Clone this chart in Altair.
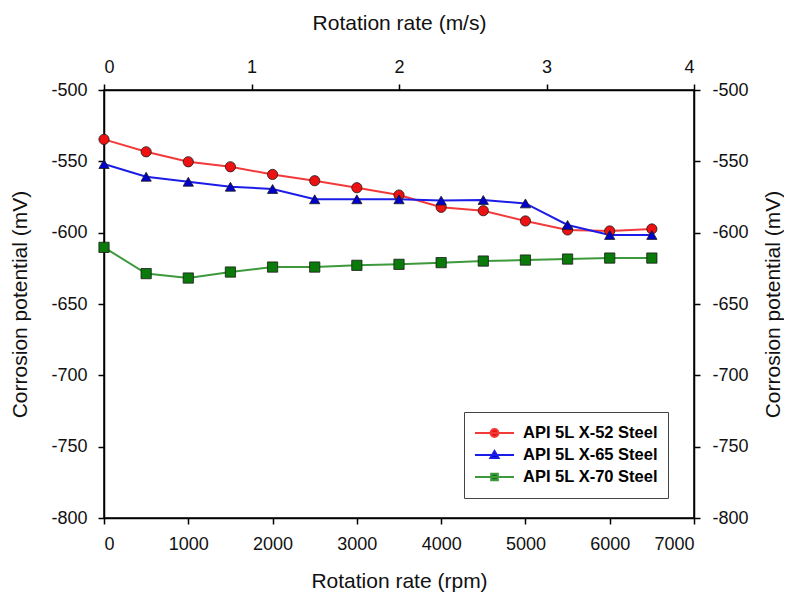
import altair as alt
import pandas as pd

# ---- data ----
rpm = [0, 500, 1000, 1500, 2000, 2500, 3000, 3500, 4000, 4500, 5000, 5500, 6000, 6500]
x52 = [-534.6, -543.3, -550.3, -553.8, -559.2, -563.6, -568.5, -573.6, -582.2, -584.6, -591.8, -598.1, -598.8, -597.4]
x65 = [-551.9, -560.8, -564.3, -567.8, -569.4, -576.6, -576.6, -576.6, -577.5, -577.1, -579.5, -594.6, -601.6, -601.6]
x70 = [-610.3, -628.7, -631.8, -627.6, -624.1, -624.1, -622.9, -622.2, -621.0, -619.9, -619.2, -618.5, -617.8, -617.8]

series = ["API 5L X-52 Steel", "API 5L X-65 Steel", "API 5L X-70 Steel"]
line_colors = ["#f23a3a", "#1c1ce8", "#3c9a3c"]
marker_fills = ["#ee1111", "#0000cc", "#0a7a0a"]
marker_shapes = ["circle", "triangle-up", "square"]
legend_paths = [
    "M-1,0H1M0.2,0A0.2,0.2,0,1,1,-0.2,0A0.2,0.2,0,1,1,0.2,0Z",
    "M-1,0H1M0,-0.2L0.21,0.16L-0.21,0.16Z",
    "M-1,0H1M-0.17,-0.17H0.17V0.17H-0.17Z",
]

rpm_ticks = [0, 1000, 2000, 3000, 4000, 5000, 6000, 7000]
speed_ticks = [0, 1, 2, 3, 4]
potential_ticks = [-800, -750, -700, -650, -600, -550, -500]

rows = []
for name, vals in zip(series, [x52, x65, x70]):
    for r, v in zip(rpm, vals):
        rows.append({"rpm": r, "mv": v, "series": name})
df = pd.DataFrame(rows)

axis_df = pd.DataFrame({
    "ms": [speed_ticks[0], speed_ticks[-1]],
    "mv2": [potential_ticks[0], potential_ticks[-1]],
})

FONT = "Liberation Sans"
xscale = alt.Scale(domain=[rpm_ticks[0], rpm_ticks[-1]], nice=False, zero=False)
yscale = alt.Scale(domain=[potential_ticks[0], potential_ticks[-1]], nice=False, zero=False)
label_expr = "'' + datum.value"

lines = alt.Chart(df).mark_line(strokeWidth=2).encode(
    x=alt.X("rpm:Q", scale=xscale,
            axis=alt.Axis(orient="bottom", values=rpm_ticks, title="Rotation rate (rpm)",
                          labelExpr=label_expr, labelPadding=11, titlePadding=17)),
    y=alt.Y("mv:Q", scale=yscale,
            axis=alt.Axis(orient="left", values=potential_ticks, title="Corrosion potential (mV)",
                          labelExpr=label_expr, labelPadding=11, titlePadding=20)),
    stroke=alt.Stroke("series:N", scale=alt.Scale(domain=series, range=line_colors), legend=None),
)

points = alt.Chart(df).mark_point(filled=True, size=105, stroke="#1a1a1a", strokeWidth=0.8, opacity=1).encode(
    x="rpm:Q",
    y="mv:Q",
    fill=alt.Fill("series:N", scale=alt.Scale(domain=series, range=marker_fills), legend=None),
    shape=alt.Shape("series:N", scale=alt.Scale(domain=series, range=marker_shapes), legend=None),
)

leg = alt.Legend(title=None, symbolSize=1521)
legend_layer = alt.Chart(df).transform_filter("false").mark_point(
    filled=True, size=1521, strokeWidth=2, opacity=1
).encode(
    x="rpm:Q",
    y="mv:Q",
    stroke=alt.Stroke("series:N", scale=alt.Scale(domain=series, range=line_colors), legend=leg),
    fill=alt.Fill("series:N", scale=alt.Scale(domain=series, range=marker_fills), legend=leg),
    shape=alt.Shape("series:N", scale=alt.Scale(domain=series, range=legend_paths), legend=leg),
)

axes_layer = alt.Chart(axis_df).mark_point(opacity=0).encode(
    x=alt.X("ms:Q", scale=alt.Scale(domain=[speed_ticks[0], speed_ticks[-1]], nice=False, zero=False),
            axis=alt.Axis(orient="top", values=speed_ticks, title="Rotation rate (m/s)",
                          labelExpr=label_expr, labelPadding=8, titlePadding=25)),
    y=alt.Y("mv2:Q", scale=yscale,
            axis=alt.Axis(orient="right", values=potential_ticks, title="Corrosion potential (mV)",
                          labelExpr=label_expr, labelPadding=12, titleAngle=-90, titlePadding=35)),
)

inner = alt.layer(lines, points, legend_layer).resolve_scale(
    shape="independent", fill="independent", stroke="independent"
)

chart = alt.layer(inner, axes_layer).resolve_scale(
    x="independent", y="independent"
).properties(
    width=590, height=428,
    padding={"left": 96, "top": 82, "right": 90, "bottom": 80},
    autosize=alt.AutoSizeParams(type="none"),
    background="white",
).configure_axis(
    grid=False,
    domainColor="black", domainWidth=1.5,
    tickColor="black", tickWidth=1.5, tickSize=6,
    labelFont=FONT, labelFontSize=18, labelColor="#111",
    titleFont=FONT, titleFontSize=21, titleFontWeight="normal", titleColor="#111",
).configure_view(
    stroke="black", strokeWidth=1.5,
).configure_legend(
    orient="none", legendX=360, legendY=322,
    padding=10, strokeColor="#444", strokeWidth=1, fillColor="white",
    labelFont=FONT, labelFontSize=16.5, labelFontWeight="bold", labelColor="black",
    labelOffset=8, clipHeight=22, rowPadding=0, symbolStrokeWidth=2, symbolSize=1521,
)

chart.save("out.html", embed_options={"renderer": "svg", "actions": False})
